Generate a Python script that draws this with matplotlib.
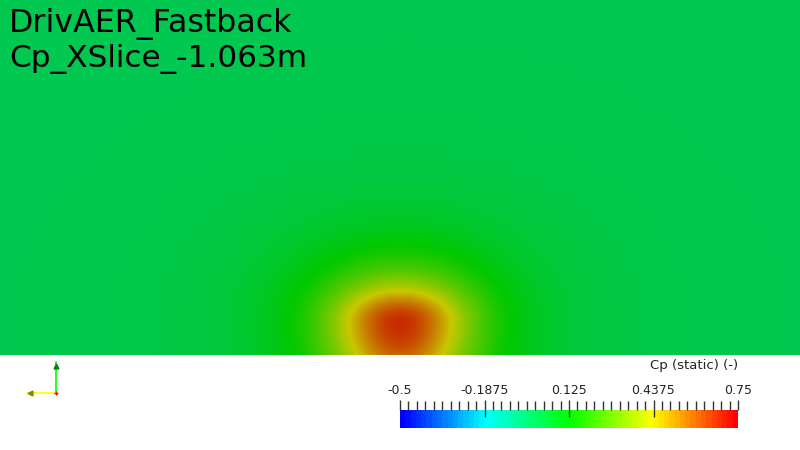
import numpy as np
import matplotlib
matplotlib.use("Agg")
import matplotlib.pyplot as plt
from matplotlib.colors import LinearSegmentedColormap, ListedColormap

# ---- data ----
title_lines = ["DrivAER_Fastback", "Cp_XSlice_-1.063m"]
cbar_title = "Cp (static) (-)"
cp_range = [-0.5, 0.75]
major_ticks = [-0.5, -0.1875, 0.125, 0.4375, 0.75]
major_labels = ["-0.5", "-0.1875", "0.125", "0.4375", "0.75"]
minor_step = 0.03125
cmap_positions = [0.0, 0.25, 0.5, 0.75, 1.0]
cmap_colors = ["#0000ff", "#00ffff", "#00ff00", "#ffff00", "#ff0000"]

# pressure field model in the slice (view pixel coords)
blob_center = [400.0, 322.0]
inner_radii = [51.0, 30.0, 60.0]     # x, y above, y below
outer_radii = [112.0, 82.0, 120.0]   # x, y above, y below
inner_amp, inner_scale = 0.40, 1.13
outer_amp, outer_scale, outer_exp = 0.28, 0.898, 3.37
cp_background = 0.0
shade = 0.785

W, H = 800, 450
view_h = 355

fig = plt.figure(figsize=(8, 4.5), dpi=100)
fig.patch.set_facecolor("white")

# ---- field ----
cm_full = LinearSegmentedColormap.from_list("pv", list(zip(cmap_positions, cmap_colors)), N=256)
rgb = cm_full(np.linspace(0, 1, 256))[:, :3] * shade
cm_shaded = ListedColormap(rgb)

xs = np.arange(W) + 0.5
ys = np.arange(view_h) + 0.5
X, Y = np.meshgrid(xs, ys)
dx = X - blob_center[0]
dy = Y - blob_center[1]

def radius(r):
    ry = np.where(dy < 0, r[1], r[2])
    return np.sqrt((dx / r[0]) ** 2 + (dy / ry) ** 2)

r1 = radius(inner_radii)
r2 = radius(outer_radii)
CP = (cp_background
      + inner_amp * np.exp(-(r1 / inner_scale) ** 2)
      + outer_amp / (1 + (r2 / outer_scale) ** outer_exp))

ax = fig.add_axes([0, 1 - view_h / H, 1, view_h / H])
ax.imshow(CP, cmap=cm_shaded, vmin=cp_range[0], vmax=cp_range[1],
          extent=[0, W, view_h, 0], interpolation="bilinear", aspect="auto")
ax.set_xlim(0, W)
ax.set_ylim(view_h, 0)
ax.axis("off")

font = "DejaVu Sans"
ax.text(9, 31.5, title_lines[0], fontsize=22.8, family=font, va="baseline", ha="left", color="black")
ax.text(9, 66.5, title_lines[1], fontsize=22.4, family=font, va="baseline", ha="left", color="black")

# ---- colorbar ----
cb_x0, cb_x1 = 400, 738
cb_y0, cb_y1 = 410, 428
cax = fig.add_axes([cb_x0 / W, 1 - cb_y1 / H, (cb_x1 - cb_x0) / W, (cb_y1 - cb_y0) / H])
cm_bar = LinearSegmentedColormap.from_list("pvbar", list(zip(cmap_positions, cmap_colors)), N=64)
grad = np.linspace(cp_range[0], cp_range[1], 512)[None, :]
cax.imshow(grad, cmap=cm_bar, vmin=cp_range[0], vmax=cp_range[1],
           extent=[cp_range[0], cp_range[1], 0, 1], aspect="auto", interpolation="nearest")
cax.set_xlim(cp_range[0], cp_range[1])
cax.set_ylim(0, 1)
for s in cax.spines.values():
    s.set_visible(False)
cax.set_yticks([])
cax.xaxis.tick_top()
cax.set_xticks(major_ticks)
cax.set_xticklabels(major_labels)
minor = np.arange(cp_range[0], cp_range[1] + 1e-9, minor_step)
cax.set_xticks(minor, minor=True)
cax.tick_params(axis="x", which="major", direction="out", length=7.2, width=1.0,
                color="#333333", pad=2.5, labelsize=9, labelcolor="#222222")
cax.tick_params(axis="x", which="minor", direction="out", length=6.5, width=1.0, color="#333333")
cax.vlines(major_ticks[1:-1], 1 - 7 / 18, 1, color="#333333", lw=1.0)
for lab in cax.get_xticklabels():
    lab.set_family(font)
fig.text(cb_x1 / W, 1 - 369 / H, cbar_title, ha="right", va="baseline", fontsize=9.5,
         family=font, color="#222222")

# ---- orientation triad ----
tax = fig.add_axes([0, 0, 1, 95 / H])
tax.set_xlim(0, W)
tax.set_ylim(H, view_h)
tax.axis("off")
origin = [56, 393]
tax.plot([origin[0], origin[0]], [origin[1], 362], color="#00ff00", lw=1.2)
tax.plot([origin[0], 27], [origin[1], origin[1]], color="#ffff00", lw=1.2)
tax.plot([origin[0]], [366], marker="^", color="#008800", ms=3.5)
tax.plot([30], [origin[1]], marker="<", color="#888800", ms=3.5)
tax.plot([origin[0]], [origin[1]], marker="+", color="red", ms=3)

fig.savefig("out.png", dpi=100)
